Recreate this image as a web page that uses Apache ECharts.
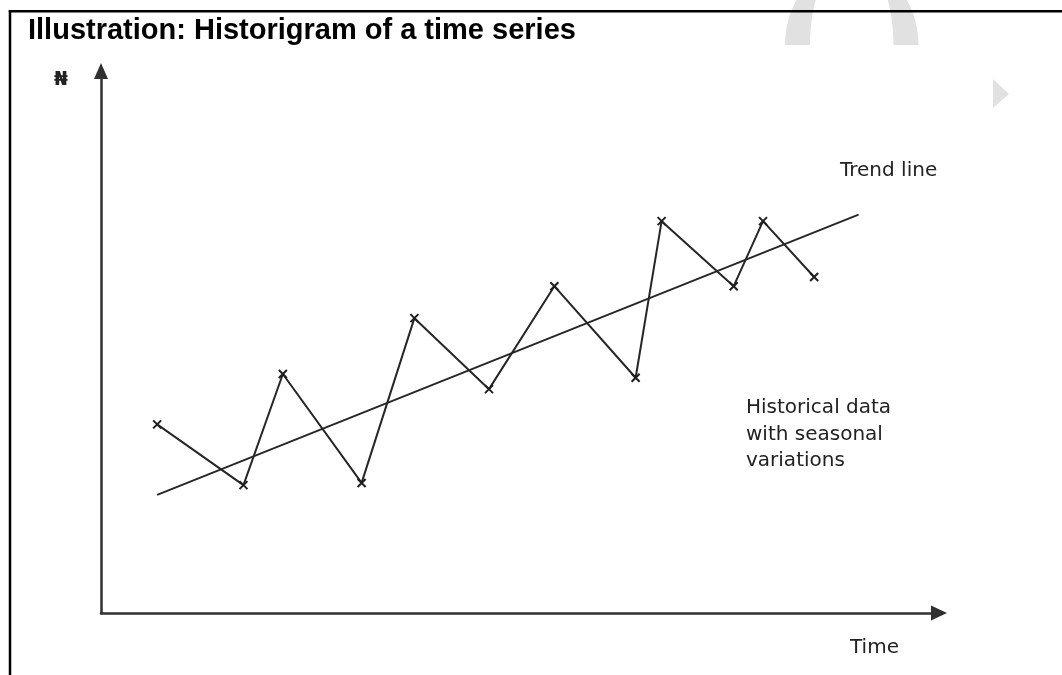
<!DOCTYPE html>
<html>
<head>
<meta charset="utf-8">
<title>Historigram of a time series</title>
<script src="https://cdn.jsdelivr.net/npm/echarts@6/dist/echarts.min.js"></script>
<style>
  html, body { margin: 0; padding: 0; background: #ffffff; }
  #chart { width: 1062px; height: 675px; }
</style>
</head>
<body>
<div id="chart"></div>
<script>
// Observed values (time position, amount) with seasonal swings
const timePoints = [6.7, 17.0, 21.7, 31.1, 37.4, 46.3, 54.1, 63.8, 66.9, 75.5, 79.0, 85.1];
const amounts    = [34.8, 23.6, 44.1, 24.0, 54.4, 41.3, 60.3, 43.4, 72.3, 60.3, 72.3, 62.0];

// Straight trend line drawn through the data
const trendTime   = [6.7, 90.4];
const trendAmount = [21.8, 73.5];

const titleText  = 'Illustration: Historigram of a time series';
const yAxisLabel = '\u20A6';
const xAxisLabel = 'Time';
const trendLabel = 'Trend line';
const dataLabel  = ['Historical data', 'with seasonal', 'variations'];

const ink = '#262626';
const labelFont = '20px "DejaVu Sans", sans-serif';

// Outline of the faint arch in the page background: outer half-ellipse
// left to right, then inner half-ellipse back again.
function archOutline(cx, cy, outerRx, outerRy, innerRx, innerRy, steps) {
  const pts = [];
  for (let i = 0; i <= steps; i++) {
    const a = Math.PI + Math.PI * i / steps;
    pts.push([cx + outerRx * Math.cos(a), cy + outerRy * Math.sin(a)]);
  }
  for (let i = steps; i >= 0; i--) {
    const a = Math.PI + Math.PI * i / steps;
    pts.push([cx + innerRx * Math.cos(a), cy + innerRy * Math.sin(a)]);
  }
  return pts;
}

const chart = echarts.init(document.getElementById('chart'), null, { renderer: 'canvas' });

chart.setOption({
  animation: false,
  backgroundColor: '#ffffff',
  title: {
    text: titleText,
    left: 28,
    top: 16,
    padding: 0,
    textStyle: {
      fontFamily: '"Liberation Sans", Arial, sans-serif',
      fontWeight: 'bold',
      fontSize: 29,
      color: '#000000'
    }
  },
  grid: { left: 101, right: 123, top: 71, bottom: 62, containLabel: false },
  xAxis: {
    type: 'value',
    min: 0,
    max: 100,
    axisLine: {
      show: true,
      symbol: ['none', 'triangle'],
      symbolSize: [15, 16],
      lineStyle: { color: '#303030', width: 2.5 }
    },
    axisTick: { show: false },
    axisLabel: { show: false },
    splitLine: { show: false }
  },
  yAxis: {
    type: 'value',
    min: 0,
    max: 100,
    axisLine: {
      show: true,
      symbol: ['none', 'triangle'],
      symbolSize: [14, 16],
      lineStyle: { color: '#303030', width: 2.5 }
    },
    axisTick: { show: false },
    axisLabel: { show: false },
    splitLine: { show: false }
  },
  series: [
    {
      name: 'Trend',
      type: 'line',
      data: trendTime.map((t, i) => [t, trendAmount[i]]),
      showSymbol: false,
      symbol: 'none',
      lineStyle: { color: ink, width: 2 },
      z: 2
    },
    {
      name: 'Historical data',
      type: 'line',
      data: timePoints.map((t, i) => [t, amounts[i]]),
      symbol: 'path://M0,0L8,8M8,0L0,8',
      symbolSize: [8, 8],
      showAllSymbol: true,
      itemStyle: { color: 'rgba(0,0,0,0)', borderColor: '#1e1e1e', borderWidth: 2 },
      lineStyle: { color: ink, width: 2 },
      z: 3
    }
  ],
  graphic: [
    // faint page watermark
    {
      type: 'polygon',
      silent: true,
      z: -10,
      shape: { points: archOutline(851.7, 45, 66.7, 80, 41.7, 89, 60) },
      style: { fill: '#e1e1e1' }
    },
    {
      type: 'polygon',
      silent: true,
      z: -10,
      shape: { points: [[993, 79], [1009, 94], [993, 108]] },
      style: { fill: '#e1e1e1' }
    },
    // frame of the illustration box
    {
      type: 'line',
      silent: true,
      shape: { x1: 8.8, y1: 11.3, x2: 1062, y2: 11.3 },
      style: { stroke: '#000000', lineWidth: 2.5 }
    },
    {
      type: 'line',
      silent: true,
      shape: { x1: 10, y1: 10, x2: 10, y2: 675 },
      style: { stroke: '#000000', lineWidth: 2.5 }
    },
    // axis captions and annotations
    {
      type: 'text',
      silent: true,
      style: { x: 54, y: 70, text: yAxisLabel, font: 'bold 20px "DejaVu Sans", sans-serif', fill: '#222222', textVerticalAlign: 'top' }
    },
    {
      type: 'text',
      silent: true,
      style: { x: 850, y: 638, text: xAxisLabel, font: labelFont, fill: '#222222', textVerticalAlign: 'top' }
    },
    {
      type: 'text',
      silent: true,
      style: { x: 840, y: 161, text: trendLabel, font: labelFont, fill: '#222222', textVerticalAlign: 'top' }
    },
    {
      type: 'text',
      silent: true,
      style: { x: 746, y: 395, text: dataLabel.join('\n'), font: labelFont, lineHeight: 26.5, fill: '#222222', textVerticalAlign: 'top' }
    }
  ]
});
</script>
</body>
</html>
